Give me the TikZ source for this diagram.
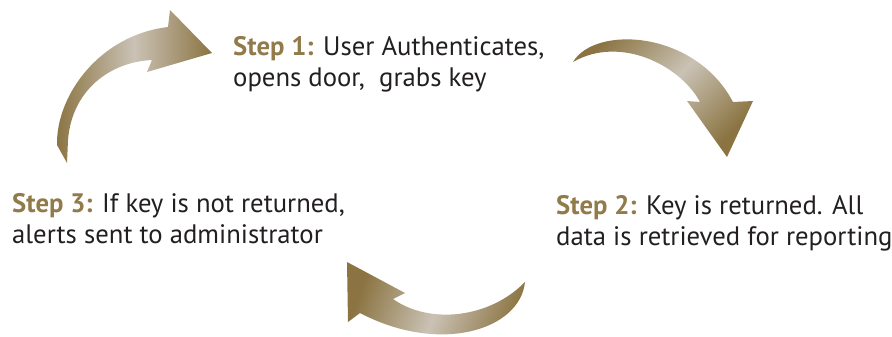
\documentclass[tikz,border=0pt]{standalone}
\usepackage{fontspec}
\setmainfont{PT Sans}

\definecolor{gold}{RGB}{139,116,66}
\definecolor{sand}{RGB}{202,194,181}
\definecolor{stepgold}{RGB}{146,123,74}
\definecolor{ink}{RGB}{35,31,32}

\tikzset{
  cyclearrow/.style={top color=gold, bottom color=gold, middle color=sand},
  steplabel/.style={anchor=base west, align=left, inner sep=0pt, text=ink,
    font=\fontsize{26.7}{31}\selectfont},
}
\newcommand{\stepname}[1]{\textcolor{stepgold}{\bfseries #1}}

\begin{document}
\begin{tikzpicture}[x=1pt, y=-1pt]
\useasboundingbox (0,0) rectangle (892,337);

% curved arrows of the cycle
\shade [cyclearrow, shading angle=90] (67,163) -- (57,145)
  .. controls (56,95) and (100,35) .. (168,27) -- (170,10) -- (212,53)
  -- (147,72) -- (152,60) .. controls (110,62) and (72,90) .. (68,140) -- cycle;
\shade [cyclearrow, shading angle=45] (573,62)
  .. controls (595,25) and (695,30) .. (733,102) -- (753,101) -- (727,157)
  -- (687,101) -- (700,102) .. controls (680,65) and (620,35) .. cycle;
\shade [cyclearrow, shading angle=70] (347,262) -- (405,293) -- (393,299)
  .. controls (430,325) and (490,318) .. (525,282)
  .. controls (520,330) and (440,355) .. (360,313) -- (348,322) -- cycle;

% step texts (base = last line)
\node [steplabel] (step1) at (233,86)
  {\stepname{Step 1:} User Authenticates,\\ opens door,\ \ grabs key};
\node [steplabel] (step2) at (556,245)
  {\stepname{Step 2:} Key is returned. All\\ data is retrieved for reporting};
\node [steplabel] (step3) at (12,243)
  {\stepname{Step 3:} If key is not returned,\\ alerts sent to administrator};
\end{tikzpicture}
\end{document}
